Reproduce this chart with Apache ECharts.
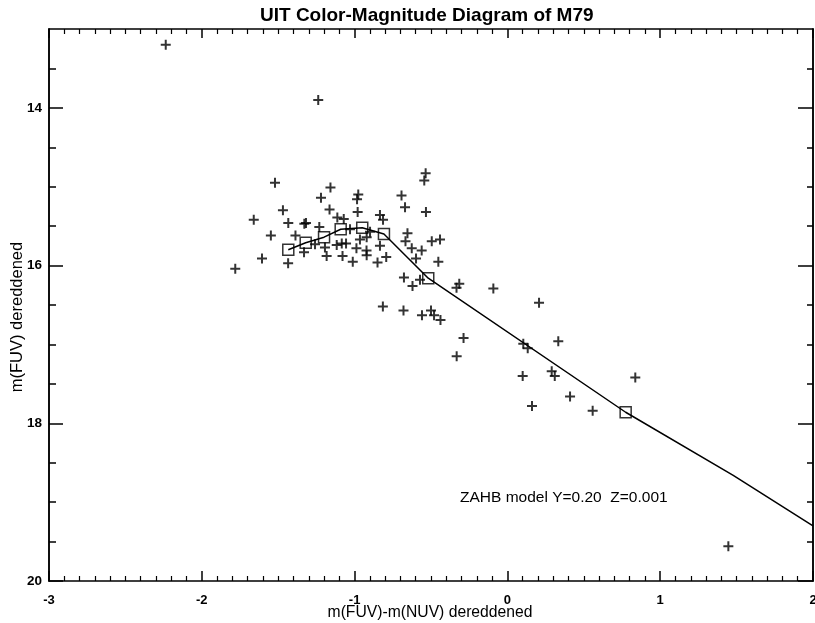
<!DOCTYPE html>
<html><head><meta charset="utf-8">
<script src="https://cdn.jsdelivr.net/npm/echarts@6/dist/echarts.min.js"></script>
<style>html,body{margin:0;padding:0;background:#fff}#c{width:815px;height:623px}</style>
</head><body><div id="c"></div>
<script>
// Observed stars: colour index m(FUV)-m(NUV) and magnitude m(FUV), dereddened
const starColor = [-2.236,-1.238,-1.521,-1.158,-1.220,-0.976,-0.984,-0.693,-0.670,-0.535,
  -0.544,-0.533,-1.469,-1.164,-0.980,-0.834,-0.814,-1.660,-1.434,-1.329,
  -1.318,-1.113,-1.071,-1.231,-1.548,-1.387,-0.654,-0.667,-0.626,-0.561,
  -0.495,-0.441,-0.452,-0.598,-1.606,-1.435,-1.781,-1.183,-1.194,-1.079,
  -1.012,-0.921,-0.850,-0.793,-0.677,-0.621,-0.572,-0.333,-0.315,-0.092,
  0.207,-0.815,-0.680,-0.559,-0.500,-0.480,-0.438,-0.287,-0.332,0.104,
  0.133,0.333,0.100,0.290,0.310,0.837,0.410,0.161,0.558,1.446,
  -1.259,-1.117,-1.084,-1.056,-0.988,-0.965,-0.921,-0.899,-1.030,-0.834,
  -1.331,-0.922];
const starFUV = [13.20,13.90,14.95,15.01,15.14,15.10,15.16,15.11,15.26,14.83,
  14.92,15.32,15.30,15.29,15.32,15.36,15.42,15.42,15.46,15.47,
  15.46,15.39,15.41,15.51,15.62,15.62,15.59,15.69,15.78,15.81,
  15.69,15.67,15.95,15.91,15.91,15.97,16.04,15.88,15.77,15.88,
  15.95,15.87,15.96,15.89,16.15,16.26,16.18,16.28,16.23,16.29,
  16.47,16.52,16.57,16.63,16.57,16.63,16.69,16.92,17.15,16.99,
  17.05,16.96,17.40,17.34,17.40,17.42,17.66,17.78,17.84,19.56,
  15.73,15.74,15.72,15.72,15.78,15.67,15.64,15.57,15.54,15.75,
  15.83,15.81];
// ZAHB model Y=0.20 Z=0.001
const zahbColor = [-1.434,-1.320,-1.200,-1.091,-0.950,-0.808,-0.518,0.774,1.478,2.0];
const zahbFUV   = [15.80,15.71,15.64,15.54,15.52,15.60,16.16,17.86,18.66,19.30];
const zahbMarker = [1,1,1,1,1,1,1,1,0,0];
// Axis ticks
const yMajorTicks = [14,16,18,20];
const yMinorTicks = [13.5,14.5,15,15.5,16.5,17,17.5,18.5,19,19.5];

const FONT = '"Liberation Sans", Arial, Helvetica, sans-serif';
const plus = 'path://M4,0H6V4H10V6H6V10H4V6H0V4H4Z';
const black = '#000';

function xAx(pos, len, showLabel) {
  return {
    type: 'value', min: -3, max: 2, interval: 1, position: pos,
    axisLine: { show: true, onZero: false, lineStyle: { color: black, width: 1.5 } },
    axisTick: { show: true, inside: true, length: len, lineStyle: { color: black, width: 1.5 } },
    minorTick: { show: true, splitNumber: 10, length: 5, lineStyle: { color: black, width: 1.2 } },
    axisLabel: { show: showLabel, color: black, fontSize: 13, fontWeight: 'bold', fontFamily: FONT, margin: 13 },
    splitLine: { show: false }, minorSplitLine: { show: false }
  };
}
function yAx(pos, ticks, len, showLabel) {
  return {
    type: 'value', min: 13, max: 20, inverse: true, position: pos,
    axisLine: { show: true, onZero: false, lineStyle: { color: black, width: 1.5 } },
    axisTick: { show: true, inside: true, length: len, customValues: ticks, lineStyle: { color: black, width: 1.5 } },
    axisLabel: { show: showLabel, customValues: ticks, color: black, fontSize: 13.5, fontWeight: 'bold', fontFamily: FONT, margin: 7 },
    splitLine: { show: false }
  };
}

const chart = echarts.init(document.getElementById('c'), null, { renderer: 'canvas' });
chart.setOption({
  animation: false,
  backgroundColor: '#fff',
  title: {
    text: 'UIT Color-Magnitude Diagram of M79', left: 260, top: 6, padding: 0,
    textStyle: { fontSize: 19, fontWeight: 'bold', color: black, fontFamily: FONT }
  },
  grid: { left: 49, right: 2, top: 29, bottom: 42, containLabel: false, outerBoundsMode: 'none' },
  xAxis: [ xAx('bottom', 10, true), xAx('top', 9, false) ],
  yAxis: [
    yAx('left', yMajorTicks, 14, true),
    yAx('left', yMinorTicks, 7, false),
    yAx('right', yMajorTicks, 15, false),
    yAx('right', yMinorTicks, 6, false)
  ],
  graphic: [
    {
      type: 'text', x: 430, y: 613,
      style: { text: 'm(FUV)-m(NUV) dereddened', font: '15.7px ' + FONT, fill: black, align: 'center', verticalAlign: 'middle' }
    },
    {
      type: 'text', x: 17, y: 317, rotation: Math.PI / 2,
      style: { text: 'm(FUV) dereddened', font: '16.5px ' + FONT, fill: black, align: 'center', verticalAlign: 'middle' }
    },
    {
      type: 'text', left: 460, top: 490,
      style: { text: 'ZAHB model Y=0.20  Z=0.001', font: '15.5px ' + FONT, fill: black }
    }
  ],
  series: [
    {
      type: 'line', xAxisIndex: 0, yAxisIndex: 0, showSymbol: false, symbol: 'none',
      data: zahbColor.map((x, i) => [x, zahbFUV[i]]),
      lineStyle: { color: black, width: 1.5 }, z: 2
    },
    {
      type: 'scatter', xAxisIndex: 0, yAxisIndex: 0, symbol: 'rect', symbolSize: 11,
      data: zahbColor.map((x, i) => [x, zahbFUV[i]]).filter((d, i) => zahbMarker[i]),
      itemStyle: { color: 'rgba(0,0,0,0)', borderColor: black, borderWidth: 1.5 }, z: 3
    },
    {
      type: 'scatter', xAxisIndex: 0, yAxisIndex: 0, symbol: plus, symbolSize: 10,
      data: starColor.map((x, i) => [x, starFUV[i]]),
      itemStyle: { color: black }, z: 4
    }
  ]
});
</script>
</body></html>
